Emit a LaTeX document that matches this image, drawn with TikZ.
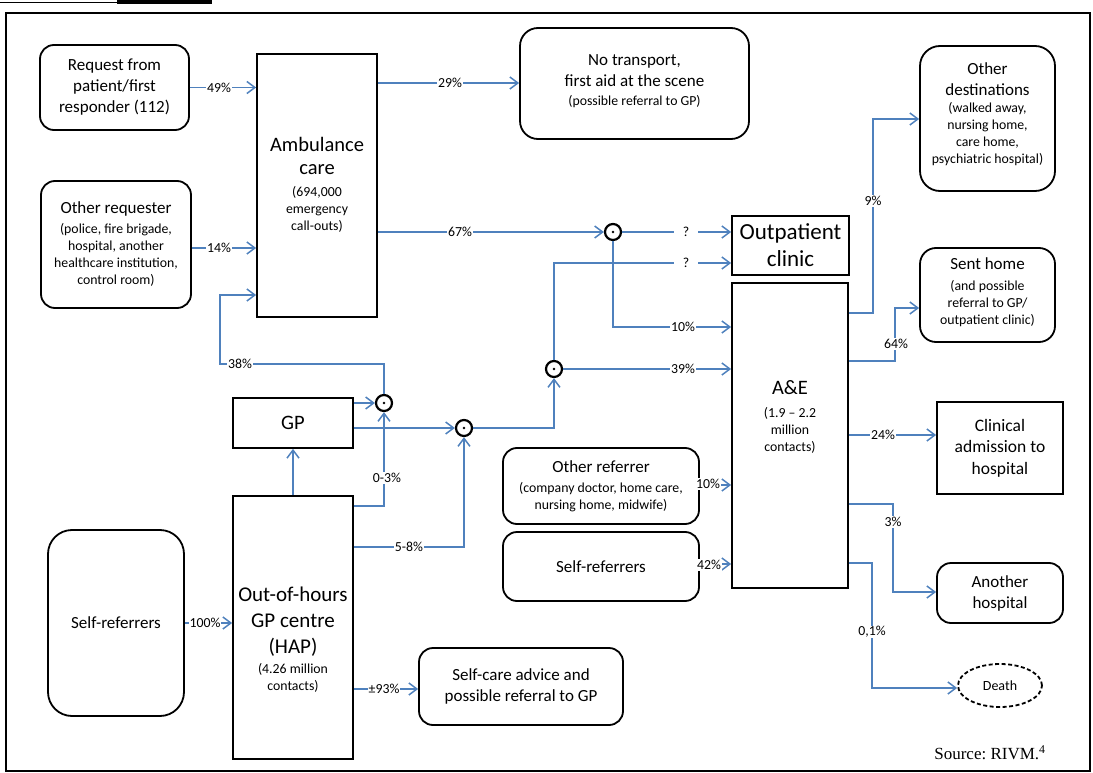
\documentclass[tikz,border=0pt]{standalone}
\usepackage{fontspec}
\setmainfont{Carlito}
\newfontfamily\timesfont{Liberation Serif}
\usetikzlibrary{arrows.meta,shapes.geometric}
\definecolor{flowblue}{HTML}{4F81BD}
\newcommand{\bigf}{\fontsize{17}{21}\selectfont}
\newcommand{\hugef}{\fontsize{20.5}{24}\selectfont}
\newcommand{\smallf}{\fontsize{13.8}{17}\selectfont}
\begin{document}
\begin{tikzpicture}[x=1pt,y=-1pt,
  rbox/.style={draw, line width=1.8pt, rounded corners=14pt, align=center, inner sep=2pt, font=\bigf},
  sbox/.style={draw, line width=1.8pt, align=center, inner sep=2pt, font=\bigf},
  txt/.style={align=center, inner sep=0pt, font=\smallf},
  flow/.style={draw=flowblue, line width=1.5pt, -{Straight Barb[length=8pt,width=12pt,line width=1.5pt]}},
  junc/.style={circle, draw, line width=2.2pt, fill=white, minimum size=16pt, inner sep=0pt},
  lbl/.style={fill=white, inner sep=0.8pt, font=\fontsize{13.8}{15}\selectfont},
]
\useasboundingbox (0,0) rectangle (1093,773);
% top ornament and frame
\draw[line width=1pt] (0,3) -- (117,3);
\draw[line width=4pt] (117,2.5) -- (212,2.5);
\draw[line width=1.6pt] (6,13) rectangle (1090,771);

% boxes
\node[rbox, minimum width=149pt, minimum height=85pt] (req) at (114.5,87.5) {Request from\\patient/first\\responder (112)};
\node[rbox, minimum width=150pt, minimum height=127pt, font=\smallf] (oth) at (116,244.5) {{\bigf Other requester}\\[3pt](police, fire brigade,\\hospital, another\\healthcare institution,\\control room)};
\node[sbox, minimum width=120pt, minimum height=263pt] (amb) at (317,185.5) {};
\node[txt] (ambt) at (317,185) {{\hugef Ambulance}\\[6pt]{\hugef care}\\[5pt](694,000\\emergency\\call-outs)};
\node[rbox, minimum width=229pt, minimum height=111pt, rounded corners=18pt] (nt) at (634.5,83.5) {};
\node[txt] (ntt) at (634.5,81) {{\bigf No transport,}\\[4pt]{\bigf first aid at the scene}\\[2pt](possible referral to GP)};
\node[rbox, minimum width=135pt, minimum height=145pt, rounded corners=20pt] (od) at (987.5,118.5) {};
\node[txt] (odt) at (987.5,114) {{\bigf Other}\\[4pt]{\bigf destinations}\\(walked away,\\nursing home,\\care home,\\psychiatric hospital)};
\node[sbox, minimum width=117pt, minimum height=59pt, font=\fontsize{23}{27}\selectfont] (op) at (790.5,245.5) {Outpatient\\clinic};
\node[sbox, minimum width=116pt, minimum height=305pt] (ae) at (790,435.5) {};
\node[txt] (aet) at (790,417) {{\hugef A\&E}\\[6pt](1.9 -- 2.2\\million\\contacts)};
\node[rbox, minimum width=135pt, minimum height=94pt, rounded corners=16pt] (sh) at (987.5,295) {};
\node[txt] (sht) at (987.5,292) {{\bigf Sent home}\\[4pt](and possible\\referral to GP/\\outpatient clinic)};
\node[sbox, minimum width=126pt, minimum height=92pt, font=\fontsize{17.5}{21.5}\selectfont] (ca) at (1000,448) {Clinical\\admission to\\hospital};
\node[rbox, minimum width=126pt, minimum height=60pt] (ah) at (1000,593) {Another\\hospital};
\node[ellipse, draw, line width=1.8pt, dash pattern=on 4pt off 2.5pt, minimum width=84pt, minimum height=43pt, inner sep=0pt, font=\fontsize{14}{16}\selectfont] (death) at (1000,685.5) {Death};
\node[sbox, minimum width=120pt, minimum height=50pt, font=\hugef] (gp) at (293,423) {GP};
\node[sbox, minimum width=120pt, minimum height=263pt] (ooh) at (293,627.5) {};
\node[txt] (ooht) at (293,640) {{\fontsize{21}{24}\selectfont Out-of-hours}\\[9pt]{\fontsize{21}{24}\selectfont GP centre}\\[9pt]{\fontsize{21}{24}\selectfont (HAP)}\\[3pt](4.26 million\\contacts)};
\node[rbox, minimum width=136pt, minimum height=186pt, rounded corners=24pt] (selfl) at (116,623) {Self-referrers};
\node[rbox, minimum width=196pt, minimum height=76pt, font=\smallf] (oref) at (601,486) {{\bigf Other referrer}\\[3pt](company doctor, home care,\\nursing home, midwife)};
\node[rbox, minimum width=196pt, minimum height=69pt] (sr) at (601,566.5) {Self-referrers};
\node[rbox, minimum width=204pt, minimum height=77pt] (sc) at (521,686.5) {Self-care advice and\\possible referral to GP};

% junctions
\node[junc] (j1) at (384,403) {};
\node[junc] (j2) at (464,428) {};
\node[junc] (j3) at (554,369) {};
\node[junc] (j4) at (613,232) {};
\foreach \j in {j1,j2,j3,j4} \fill (\j) circle (1.4pt);

% connectors
\draw[flow] (req.east) -- (req.east -| amb.west);
\draw[flow] (oth.east |- 0,248) -- (amb.west |- 0,248);
\draw[flow] (j1.north) |- (220,364) |- (amb.west |- 0,295);
\draw[flow] (gp.east |- 0,403) -- (j1.west);
\draw[flow] (gp.east |- 0,428) -- (j2.west);
\draw[flow] (ooh.north) -- (gp.south);
\draw[flow] (ooh.east |- 0,506) -| (j1.south);
\draw[flow] (ooh.east |- 0,547) -| (j2.south);
\draw[flow] (j2.east) -| (j3.south);
\draw[flow] (j3.east) -- (ae.west |- j3.east);
\draw[flow] (j3.north) |- (op.west |- 0,263);
\draw[flow] (amb.east |- 0,232) -- (j4.west);
\draw[flow] (j4.east) -- (op.west |- j4.east);
\draw[flow] (j4.south) |- (ae.west |- 0,327);
\draw[flow] (amb.east |- 0,83) -- (nt.west |- 0,83);
\draw[flow] (oref.east |- 0,485) -- (ae.west |- 0,485);
\draw[flow] (sr.east |- 0,564) -- (ae.west |- 0,564);
\draw[flow] (selfl.east) -- (ooh.west |- selfl.east);
\draw[flow] (ooh.east |- 0,689) -- (sc.west |- 0,689);
\draw[flow] (ae.east |- 0,313) -| (873,119) -- (od.west |- 0,119);
\draw[flow] (ae.east |- 0,361) -| (895,308) -- (sh.west |- 0,308);
\draw[flow] (ae.east |- 0,435) -- (ca.west |- 0,435);
\draw[flow] (ae.east |- 0,504) -| (893,592) -- (ah.west |- 0,592);
\draw[flow] (ae.east |- 0,563) -| (872,688) -- (death.west |- 0,688);

% labels
\node[lbl] (l49) at (219,88) {49\%};
\node[lbl] (l14) at (219,248) {14\%};
\node[lbl] (l38) at (240,364) {38\%};
\node[lbl] (l03) at (387,478) {0-3\%};
\node[lbl] (l58) at (409,547) {5-8\%};
\node[lbl] (l39) at (683,369) {39\%};
\node[lbl, inner xsep=9pt] (lq2) at (686,263) {?};
\node[lbl, inner xsep=9pt] (lq1) at (686,232) {?};
\node[lbl] (l67) at (460,232) {67\%};
\node[lbl] (l10a) at (683,327) {10\%};
\node[lbl] (l29) at (450,83) {29\%};
\node[lbl] (l10b) at (708,484) {10\%};
\node[lbl] (l42) at (709,565) {42\%};
\node[lbl] (l100) at (205,623) {100\%};
\node[lbl] (l93) at (384,689) {±93\%};
\node[lbl] (l9) at (873,201) {9\%};
\node[lbl] (l64) at (896,344) {64\%};
\node[lbl] (l24) at (883,435) {24\%};
\node[lbl] (l3) at (893,522) {3\%};
\node[lbl] (l01) at (872,632) {0,1\%};

\node[inner sep=0pt, font=\timesfont\fontsize{17}{20}\selectfont] (src) at (990,753) {Source:\ RIVM.\textsuperscript{4}};
\end{tikzpicture}
\end{document}
